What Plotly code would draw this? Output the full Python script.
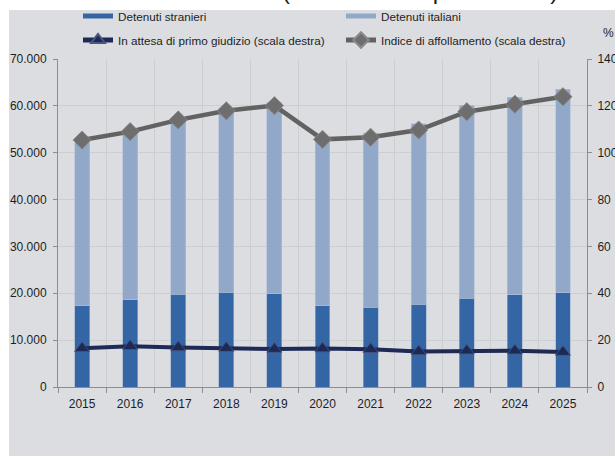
import plotly.graph_objects as go

years = ["2015", "2016", "2017", "2018", "2019", "2020", "2021", "2022", "2023", "2024", "2025"]
totale = [52150, 54450, 57600, 59650, 60800, 53350, 54150, 56200, 60150, 61850, 63500]
stranieri = [17350, 18600, 19750, 20250, 19900, 17300, 17050, 17700, 18900, 19700, 20100]
italiani = [t - s for t, s in zip(totale, stranieri)]
in_attesa = [16.5, 17.4, 16.9, 16.6, 16.2, 16.4, 16.1, 15.2, 15.5, 15.5, 14.9]
affollamento = [105.4, 109.0, 114.0, 117.9, 120.1, 105.7, 106.6, 109.7, 117.5, 120.7, 123.9]

left_ticks = list(range(0, 70001, 10000))
right_ticks = list(range(0, 141, 20))

C_STR = "#3465a4"
C_ITA = "#91a8c8"
C_ATT = "#1c2a55"
C_AFF = "#626262"
BG = "#dcdde0"
GRID = "#cdced2"
AXIS = "#8e8e8e"
FONT = "Liberation Sans, Arial, sans-serif"

W, H = 615, 456
PL, PR, PT, PB = 58, 28, 59, 69
pw = W - PL - PR
ph = H - PT - PB


def px_x(x):
    return (x - PL) / pw


def px_y(y):
    return 1 + (PT - y) / ph


fig = go.Figure()

fig.add_trace(go.Bar(x=years, y=stranieri, name="Detenuti stranieri",
                     marker=dict(color=C_STR, line=dict(width=0.6, color="#9fb3d1")),
                     width=0.31, showlegend=False))
fig.add_trace(go.Bar(x=years, y=italiani, name="Detenuti italiani",
                     marker=dict(color=C_ITA, line=dict(width=0.6, color="#b3c2d8")),
                     width=0.31, showlegend=False))

# legend proxies for bars (wide rectangles)
fig.add_trace(go.Scatter(x=[None], y=[None], mode="lines", name="Detenuti stranieri",
                         line=dict(color=C_STR, width=6), legend="legend"))
fig.add_trace(go.Scatter(x=[None], y=[None], mode="lines", name="Detenuti italiani",
                         line=dict(color=C_ITA, width=6), legend="legend2"))

fig.add_trace(go.Scatter(x=years, y=in_attesa, name="In attesa di primo giudizio (scala destra)",
                         mode="lines+markers", yaxis="y2", legend="legend3",
                         line=dict(color=C_ATT, width=4),
                         marker=dict(symbol="triangle-up", size=13, color=C_ATT,
                                     line=dict(width=0.8, color="#4a5680"))))
fig.add_trace(go.Scatter(x=years, y=affollamento, name="Indice di affollamento (scala destra)",
                         mode="lines+markers", yaxis="y2", legend="legend4",
                         line=dict(color=C_AFF, width=4.5),
                         marker=dict(symbol="diamond", size=14, color="#6e6e6e",
                                     line=dict(width=0.8, color="#8a8a8a"))))


def leg(xp, yp):
    return dict(orientation="h", x=px_x(xp), y=px_y(yp), xanchor="left", yanchor="middle",
                bgcolor="rgba(0,0,0,0)", font=dict(size=11.7, color="#1e1e1e"),
                itemsizing="constant")


fig.update_layout(
    width=W, height=H,
    margin=dict(l=PL, r=PR, t=PT, b=PB, pad=0, autoexpand=False),
    paper_bgcolor="white",
    plot_bgcolor="rgba(0,0,0,0)",
    barmode="stack",
    separators=",.",
    font=dict(family=FONT, size=12, color="#1e1e1e"),
    xaxis=dict(type="category", tickson="boundaries", showgrid=True, gridcolor=GRID, gridwidth=1,
               showline=True, linecolor=AXIS, linewidth=1, ticks="outside", ticklen=5, tickcolor=AXIS,
               tickfont=dict(size=12), range=[-0.5, 10.5], fixedrange=True, ticklabelstandoff=6),
    yaxis=dict(range=[0, 70000], tickvals=left_ticks, tickformat=",d", showgrid=True, gridcolor=GRID,
               showline=True, linecolor=AXIS, linewidth=1, ticks="outside", ticklen=4, tickcolor=AXIS,
               tickfont=dict(size=12), zeroline=False, ticklabelstandoff=4),
    yaxis2=dict(range=[0, 140], tickvals=right_ticks, overlaying="y", side="right", showgrid=False,
                showline=True, linecolor=AXIS, linewidth=1, ticks="outside", ticklen=4, tickcolor=AXIS,
                tickfont=dict(size=12), zeroline=False, ticklabelstandoff=3),
    legend=leg(78, 16),
    legend2=leg(341, 16),
    legend3=leg(78, 40),
    legend4=leg(341, 40),
    shapes=[dict(type="rect", xref="paper", yref="paper", x0=px_x(9), x1=px_x(W + 20), y0=px_y(H + 20),
                 y1=px_y(10), fillcolor=BG, line=dict(width=0), layer="below")],
    annotations=[
        dict(text="%", xref="paper", yref="paper", x=px_x(608), y=px_y(33), showarrow=False,
             xanchor="center", yanchor="middle", font=dict(size=12, color="#1e1e1e")),
        dict(text="(unità e valori percentuali)", xref="paper", yref="paper", x=px_x(420), y=px_y(6),
             showarrow=False, xanchor="center", yanchor="bottom", font=dict(size=24, color="#1e1e1e")),
    ],
)

fig.write_html("out.html", config={"displayModeBar": False},
               post_script="document.body.style.margin='0';document.body.style.overflow='hidden';"
                           "document.documentElement.style.overflow='hidden';")
